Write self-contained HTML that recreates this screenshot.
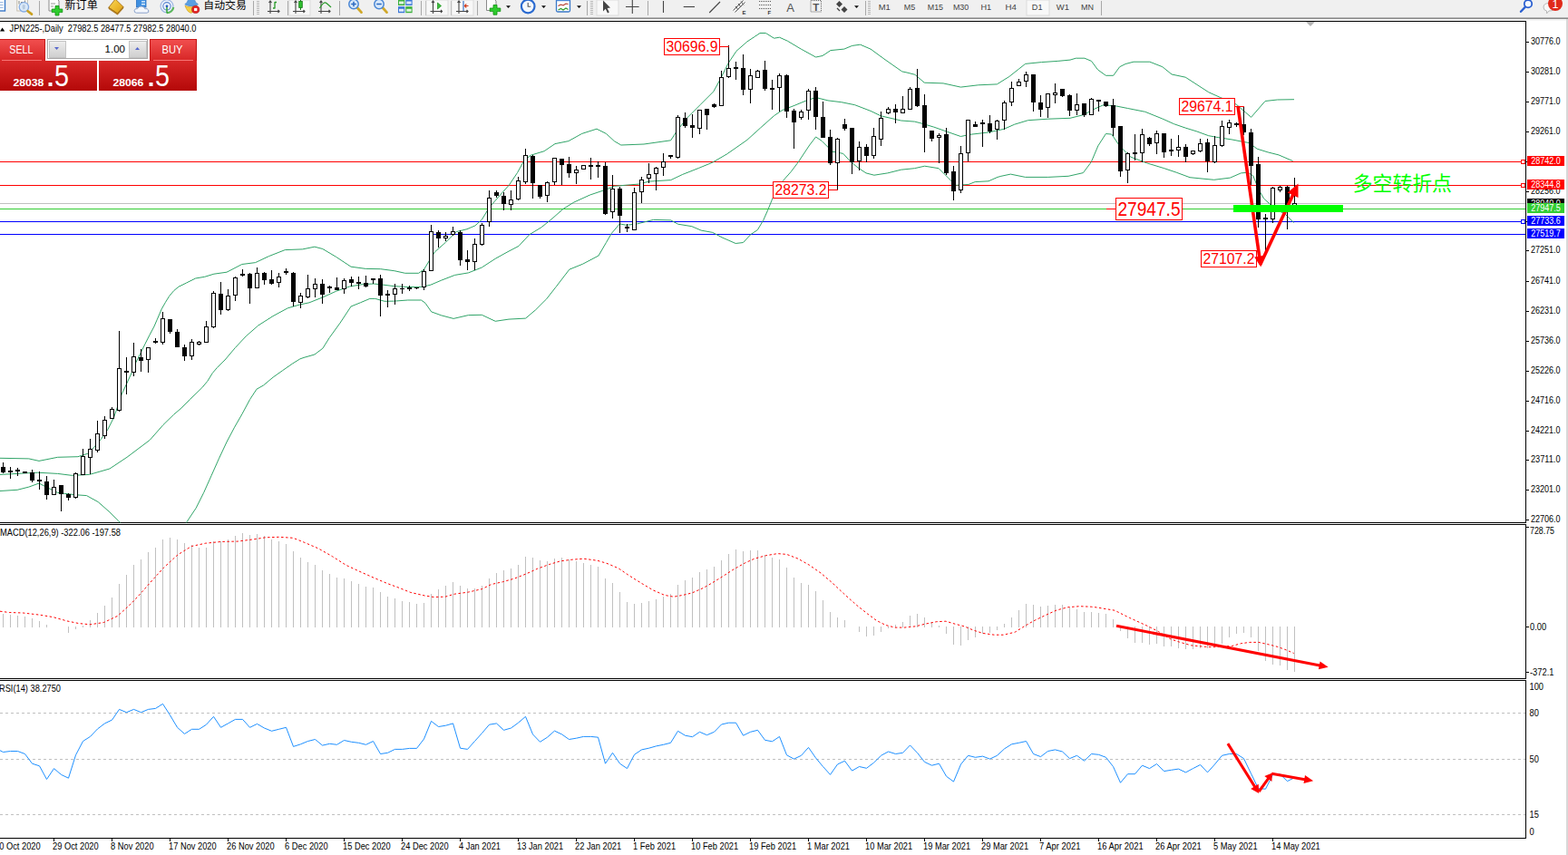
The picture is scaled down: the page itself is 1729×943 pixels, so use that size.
<!DOCTYPE html>
<html><head><meta charset="utf-8"><title>JPN225 Daily</title>
<style>
html,body{margin:0;padding:0;background:#fff;overflow:hidden}
body{width:1729px;height:943px;position:relative;font-family:"Liberation Sans",sans-serif}
svg{position:absolute;left:0;top:0;display:block}
svg text{font-family:"Liberation Sans",sans-serif}
</style></head><body>
<svg width="1729" height="943" viewBox="0 0 1729 943">
<defs>
<linearGradient id="gr1" x1="0" y1="0" x2="0" y2="1"><stop offset="0" stop-color="#f25050"/><stop offset="1" stop-color="#d62424"/></linearGradient>
<linearGradient id="gr2" x1="0" y1="0" x2="0" y2="1"><stop offset="0" stop-color="#d82828"/><stop offset="1" stop-color="#b40808"/></linearGradient>
<linearGradient id="gb" x1="0" y1="0" x2="0" y2="1"><stop offset="0" stop-color="#eeeeee"/><stop offset="1" stop-color="#cfcfcf"/></linearGradient>
<linearGradient id="gy" x1="0" y1="0" x2="1" y2="1"><stop offset="0" stop-color="#f6d860"/><stop offset="0.5" stop-color="#eebc30"/><stop offset="1" stop-color="#d89a18"/></linearGradient>
</defs>
<rect x="0" y="0" width="1729" height="943" fill="#fff"/>
<rect x="0" y="0" width="1729" height="19" fill="#f0f0f0"/>
<rect x="0" y="19" width="1729" height="1" fill="#b4b4b4"/>
<rect x="0" y="20" width="1729" height="1" fill="#8a8a8a"/>
<rect x="0" y="21" width="1729" height="2" fill="#f4f4f4"/>
<rect x="1727" y="21" width="2" height="922" fill="#d8d8d8"/>
<rect x="-4" y="-3" width="9.5" height="15" fill="#fff" stroke="#3a78c8" stroke-width="1.4"/>
<rect x="0" y="2" width="3.5" height="1" fill="#9ab8e0"/>
<rect x="0" y="5" width="3.5" height="1" fill="#9ab8e0"/>
<rect x="0" y="8" width="3.5" height="1" fill="#9ab8e0"/>
<rect x="18.8" y="-3" width="11.5" height="15" fill="#fbfaf6" stroke="#c0b8a8" stroke-width="0.9"/>
<path d="M21 1 V4.5 M27.5 0.5 V4 M23 2.5 H26" stroke="#666" stroke-width="0.8" fill="none"/>
<circle cx="26.4" cy="7.8" r="5.2" fill="#d8e8f8" stroke="#86ace4" stroke-width="1.3" fill-opacity="0.92"/>
<path d="M25 5 Q23.8 8 25.4 10.5 L27.6 10 L27.8 5.6 Z" fill="#a8bcd4" opacity="0.7"/>
<path d="M30.6 12.2 L35 15.6" stroke="#c9a020" stroke-width="2.7" stroke-linecap="round"/>
<rect x="43" y="1" width="1" height="16" fill="#a8a8a8" shape-rendering="crispEdges"/>
<path d="M54 -3 H61 L65 1 V12 H54 Z" fill="#fdfdfd" stroke="#8a8a8a" stroke-width="1"/>
<path d="M56 4 H61 M56 7 H59" stroke="#9a9a9a" stroke-width="1"/>
<path d="M61 6.5 H65 V10 H68.8 V13.6 H65 V17 H61 V13.6 H57.2 V10 H61 Z" fill="#2ecc2e" stroke="#0e8f0e" stroke-width="0.8"/>
<text x="71.5" y="9.9" font-size="12.1" fill="#000" style="font-family:'Liberation Sans','Noto Sans CJK SC',sans-serif">新订单</text>
<path d="M119.8 8.3 L127.2 -1 L136 7.6 L129.4 14.8 Z" fill="url(#gy)" stroke="#a8741a" stroke-width="0.9"/>
<path d="M119.8 8.3 L129.4 14.8 L136 7.6 L136 9 L129.6 16.2 L120 9.8 Z" fill="#c48a1c" stroke="#8a5a10" stroke-width="0.5"/>
<rect x="150.5" y="-3" width="10.5" height="11" fill="#3f8fe0" stroke="#2a6fc0" stroke-width="0.8"/>
<rect x="156" y="1.2" width="4" height="1.3" fill="#e8f4ff"/><rect x="156" y="4" width="4" height="1.3" fill="#e8f4ff"/>
<path d="M150.5 14.2 Q147.6 14 148.2 11.4 Q149 9 151.6 9.6 Q152.6 6.6 156 7 Q159.2 7.2 159.8 9.8 Q162.4 8.8 163.6 11 Q164.8 14 162 14.2 Z" fill="#f4f7fc" stroke="#7f98c4" stroke-width="0.9"/>
<circle cx="184" cy="6.8" r="7" fill="#eef3fa" stroke="#9ab4e2" stroke-width="1.1"/>
<circle cx="184" cy="6.8" r="4.2" fill="none" stroke="#5a86d0" stroke-width="1.1"/>
<path d="M184 14.2 A7.4 7.4 0 0 0 191.3 8" fill="none" stroke="#5cb85c" stroke-width="2.2"/>
<path d="M184 6.8 V14.6" stroke="#2aa02a" stroke-width="1.4"/>
<circle cx="184" cy="6.8" r="1.4" fill="#2a5cc0"/>
<path d="M204 6.2 Q210 9.5 217 6.2 Q214.5 13.5 210.5 14.3 Q206.5 13.5 204 6.2 Z" fill="#f3cf45" stroke="#cfa020" stroke-width="0.7"/>
<path d="M203.8 4.8 Q207 3.5 208.5 -3 H213.5 Q215 3.5 218.4 4.8 Q211 8.6 203.8 4.8 Z" fill="#5a9fe2" stroke="#3a7cc8" stroke-width="0.7"/>
<circle cx="215.7" cy="10.5" r="4.1" fill="#e22222" stroke="#b01212" stroke-width="0.6"/>
<rect x="214.1" y="8.9" width="3.2" height="3.2" fill="#fff"/>
<text x="224.3" y="9.8" font-size="11.9" fill="#000" style="font-family:'Liberation Sans','Noto Sans CJK SC',sans-serif">自动交易</text>
<rect x="279" y="1" width="1" height="16" fill="#a8a8a8" shape-rendering="crispEdges"/>
<rect x="283" y="1" width="3" height="1" fill="#b8b8b8" shape-rendering="crispEdges"/>
<rect x="283" y="3" width="3" height="1" fill="#b8b8b8" shape-rendering="crispEdges"/>
<rect x="283" y="5" width="3" height="1" fill="#b8b8b8" shape-rendering="crispEdges"/>
<rect x="283" y="7" width="3" height="1" fill="#b8b8b8" shape-rendering="crispEdges"/>
<rect x="283" y="9" width="3" height="1" fill="#b8b8b8" shape-rendering="crispEdges"/>
<rect x="283" y="11" width="3" height="1" fill="#b8b8b8" shape-rendering="crispEdges"/>
<rect x="283" y="13" width="3" height="1" fill="#b8b8b8" shape-rendering="crispEdges"/>
<rect x="283" y="15" width="3" height="1" fill="#b8b8b8" shape-rendering="crispEdges"/>
<path d="M298 1 V15 M295 12.5 H308 M296.5 3 L298 1 L299.5 3 M306.5 11 L308 12.5 L306.5 14" fill="none" stroke="#444" stroke-width="1.1"/>
<path d="M303 2 V9.5 M303 2.5 H305 M301 9 H303" stroke="#2a9a2a" stroke-width="1.3" fill="none"/>
<rect x="317" y="1" width="1" height="16" fill="#a8a8a8" shape-rendering="crispEdges"/>
<rect x="319" y="0" width="23" height="17" fill="#f8f8f8" stroke="#dcdcdc" stroke-width="1"/>
<path d="M326 1 V15 M323 12.5 H336 M324.5 3 L326 1 L327.5 3 M334.5 11 L336 12.5 L334.5 14" fill="none" stroke="#444" stroke-width="1.1"/>
<path d="M331.5 -1 V11" stroke="#1a7a1a" stroke-width="1"/><rect x="329.7" y="1.5" width="3.6" height="7" fill="#2fbf2f" stroke="#1a7a1a" stroke-width="0.8"/>
<path d="M354 1 V15 M351 12.5 H364 M352.5 3 L354 1 L355.5 3 M362.5 11 L364 12.5 L362.5 14" fill="none" stroke="#444" stroke-width="1.1"/>
<path d="M352.5 9 Q357 1 360 3.5 T365 8" stroke="#2a9a2a" stroke-width="1.2" fill="none"/>
<rect x="374" y="1" width="1" height="16" fill="#a8a8a8" shape-rendering="crispEdges"/>
<path d="M393.5 8 L398.5 13.6" stroke="#d0a82a" stroke-width="2.8" stroke-linecap="round"/>
<circle cx="390" cy="4.5" r="5.2" fill="#d9e9fa" stroke="#4a86d4" stroke-width="1.5"/>
<path d="M387.2 4.5 H392.8" stroke="#2a68c0" stroke-width="1.5"/>
<path d="M390 1.7 V7.3" stroke="#2a68c0" stroke-width="1.5"/>
<path d="M421.5 8 L426.5 13.6" stroke="#d0a82a" stroke-width="2.8" stroke-linecap="round"/>
<circle cx="418" cy="4.5" r="5.2" fill="#d9e9fa" stroke="#4a86d4" stroke-width="1.5"/>
<path d="M415.2 4.5 H420.8" stroke="#2a68c0" stroke-width="1.5"/>
<rect x="439" y="-1" width="7.3" height="7" fill="#3bb03b"/><rect x="447.3" y="-1" width="7.3" height="7" fill="#3a78d8"/>
<rect x="439" y="7.2" width="7.3" height="7" fill="#3a78d8"/><rect x="447.3" y="7.2" width="7.3" height="7" fill="#3bb03b"/>
<rect x="440" y="1.5" width="5.3" height="3" fill="#fff" opacity="0.85"/>
<rect x="440" y="9.8" width="5.3" height="3" fill="#fff" opacity="0.85"/>
<rect x="448.3" y="1.5" width="5.3" height="3" fill="#fff" opacity="0.85"/>
<rect x="448.3" y="9.8" width="5.3" height="3" fill="#fff" opacity="0.85"/>
<rect x="464" y="1" width="1" height="16" fill="#a8a8a8" shape-rendering="crispEdges"/>
<rect x="469" y="1" width="1" height="16" fill="#a8a8a8" shape-rendering="crispEdges"/>
<rect x="470" y="0" width="24" height="17" fill="#f8f8f8" stroke="#dcdcdc" stroke-width="1"/>
<path d="M477.5 1 V15 M474.5 12.5 H487.5 M476.0 3 L477.5 1 L479.0 3 M486.0 11 L487.5 12.5 L486.0 14" fill="none" stroke="#444" stroke-width="1.1"/>
<path d="M482.5 3 L486.5 6.5 L482.5 10 Z" fill="#3ac03a" stroke="#1a8a1a" stroke-width="0.7"/>
<rect x="497" y="1" width="1" height="16" fill="#a8a8a8" shape-rendering="crispEdges"/>
<rect x="498" y="0" width="24" height="17" fill="#f8f8f8" stroke="#dcdcdc" stroke-width="1"/>
<path d="M506 1 V15 M503 12.5 H516 M504.5 3 L506 1 L507.5 3 M514.5 11 L516 12.5 L514.5 14" fill="none" stroke="#444" stroke-width="1.1"/>
<path d="M511 1 V12" stroke="#2a68c0" stroke-width="1.1"/><path d="M516.5 6.5 H512.5 M514.3 4.5 L512.3 6.5 L514.3 8.5" stroke="#d03a1a" stroke-width="1.1" fill="none"/>
<rect x="526" y="1" width="1" height="16" fill="#a8a8a8" shape-rendering="crispEdges"/>
<path d="M536.5 -3 H543 L547 1 V11.5 H536.5 Z" fill="#fdfdfd" stroke="#8a8a8a" stroke-width="1"/>
<path d="M544 5.5 H548 V9 H551.8 V12.6 H548 V16.2 H544 V12.6 H540.2 V9 H544 Z" fill="#2ecc2e" stroke="#0e8f0e" stroke-width="0.8"/>
<path d="M558 6.2 L563 6.2 L560.5 9 Z" fill="#111"/>
<circle cx="582.2" cy="7" r="7.3" fill="#f4f8fd" stroke="#2a6ad0" stroke-width="2.2"/>
<path d="M582.2 3 V7.3 H585.2" stroke="#555" stroke-width="1.1" fill="none"/>
<path d="M597 6.2 L602 6.2 L599.5 9 Z" fill="#111"/>
<rect x="613.5" y="-2" width="15" height="15" rx="1.5" fill="#fdfdfd" stroke="#3a78c8" stroke-width="1.3"/>
<rect x="613.5" y="-2" width="15" height="3.2" fill="#4a88d8"/>
<path d="M615.5 6.5 L618.5 5 L621 6 L624 4 L626.5 4.5" stroke="#b03020" stroke-width="1.1" fill="none"/>
<path d="M615.5 11 L618.5 9.5 L621 11 L624 9 L626.5 10.5" stroke="#2a9a2a" stroke-width="1.1" fill="none"/>
<path d="M636 6.2 L641 6.2 L638.5 9 Z" fill="#111"/>
<rect x="647" y="1" width="1" height="16" fill="#a8a8a8" shape-rendering="crispEdges"/>
<rect x="651" y="1" width="3" height="1" fill="#b8b8b8" shape-rendering="crispEdges"/>
<rect x="651" y="3" width="3" height="1" fill="#b8b8b8" shape-rendering="crispEdges"/>
<rect x="651" y="5" width="3" height="1" fill="#b8b8b8" shape-rendering="crispEdges"/>
<rect x="651" y="7" width="3" height="1" fill="#b8b8b8" shape-rendering="crispEdges"/>
<rect x="651" y="9" width="3" height="1" fill="#b8b8b8" shape-rendering="crispEdges"/>
<rect x="651" y="11" width="3" height="1" fill="#b8b8b8" shape-rendering="crispEdges"/>
<rect x="651" y="13" width="3" height="1" fill="#b8b8b8" shape-rendering="crispEdges"/>
<rect x="651" y="15" width="3" height="1" fill="#b8b8b8" shape-rendering="crispEdges"/>
<rect x="658" y="0" width="24" height="17" fill="#f8f8f8" stroke="#dcdcdc" stroke-width="1"/>
<path d="M665 0.5 L665 12.5 L667.8 9.8 L670 14.5 L671.8 13.6 L669.6 9 L673 8.6 Z" fill="#444"/>
<path d="M697.3 0 V15 M690 7.5 H704.6" stroke="#444" stroke-width="1.1"/>
<rect x="714" y="1" width="1" height="16" fill="#a8a8a8" shape-rendering="crispEdges"/>
<path d="M731.5 1 V14" stroke="#444" stroke-width="1.1"/>
<path d="M753.7 7.5 H766" stroke="#444" stroke-width="1.1"/>
<path d="M782.2 14 L794 2" stroke="#444" stroke-width="1.1"/>
<path d="M808.5 11.5 L819.5 0.5 M810.5 13.5 L821.5 2.5 M811 7 L814 11 M814 4 L817 8 M817 1.5 L820 5.5" stroke="#555" stroke-width="1" fill="none"/>
<text x="818.5" y="15.5" font-size="6" font-weight="bold" fill="#333">E</text>
<path d="M837 1.5 H850" stroke="#555" stroke-width="1" stroke-dasharray="1,1"/>
<path d="M837 5.5 H850" stroke="#555" stroke-width="1" stroke-dasharray="1,1"/>
<path d="M837 9.5 H850" stroke="#555" stroke-width="1" stroke-dasharray="1,1"/>
<text x="846.5" y="15.5" font-size="6" font-weight="bold" fill="#333">F</text>
<text x="871.7" y="12.5" font-size="13" text-anchor="middle" fill="#555">A</text>
<rect x="894" y="0.5" width="11.5" height="12.5" fill="none" stroke="#666" stroke-width="1" stroke-dasharray="1,1"/>
<text x="899.8" y="11.8" font-size="11.5" font-weight="bold" text-anchor="middle" fill="#555">T</text>
<path d="M922 4.5 L925.5 1 L929 4.5 L925.5 8 Z M927.5 10.5 L931 7 L934.5 10.5 L931 14 Z" fill="#444"/>
<path d="M923 9 L926 12" stroke="#444" stroke-width="1.2"/>
<path d="M942 6.2 L947 6.2 L944.5 9 Z" fill="#111"/>
<rect x="954" y="1" width="1" height="16" fill="#a8a8a8" shape-rendering="crispEdges"/>
<rect x="957" y="1" width="3" height="1" fill="#b8b8b8" shape-rendering="crispEdges"/>
<rect x="957" y="3" width="3" height="1" fill="#b8b8b8" shape-rendering="crispEdges"/>
<rect x="957" y="5" width="3" height="1" fill="#b8b8b8" shape-rendering="crispEdges"/>
<rect x="957" y="7" width="3" height="1" fill="#b8b8b8" shape-rendering="crispEdges"/>
<rect x="957" y="9" width="3" height="1" fill="#b8b8b8" shape-rendering="crispEdges"/>
<rect x="957" y="11" width="3" height="1" fill="#b8b8b8" shape-rendering="crispEdges"/>
<rect x="957" y="13" width="3" height="1" fill="#b8b8b8" shape-rendering="crispEdges"/>
<rect x="957" y="15" width="3" height="1" fill="#b8b8b8" shape-rendering="crispEdges"/>
<rect x="1132" y="0" width="25" height="17" fill="#f8f8f8" stroke="#dcdcdc" stroke-width="1"/>
<text x="975.2" y="11.2" font-size="9.6" text-anchor="middle" fill="#444" textLength="13.1" lengthAdjust="spacingAndGlyphs">M1</text>
<text x="1003" y="11.2" font-size="9.6" text-anchor="middle" fill="#444" textLength="12.4" lengthAdjust="spacingAndGlyphs">M5</text>
<text x="1031.4" y="11.2" font-size="9.6" text-anchor="middle" fill="#444" textLength="17.3" lengthAdjust="spacingAndGlyphs">M15</text>
<text x="1059.6" y="11.2" font-size="9.6" text-anchor="middle" fill="#444" textLength="17.4" lengthAdjust="spacingAndGlyphs">M30</text>
<text x="1087.3" y="11.2" font-size="9.6" text-anchor="middle" fill="#444" textLength="11.7" lengthAdjust="spacingAndGlyphs">H1</text>
<text x="1114.6" y="11.2" font-size="9.6" text-anchor="middle" fill="#444" textLength="12.4" lengthAdjust="spacingAndGlyphs">H4</text>
<text x="1143.7" y="11.2" font-size="9.6" text-anchor="middle" fill="#444" textLength="11.7" lengthAdjust="spacingAndGlyphs">D1</text>
<text x="1171.9" y="11.2" font-size="9.6" text-anchor="middle" fill="#444" textLength="14.2" lengthAdjust="spacingAndGlyphs">W1</text>
<text x="1198.9" y="11.2" font-size="9.6" text-anchor="middle" fill="#444" textLength="14" lengthAdjust="spacingAndGlyphs">MN</text>
<rect x="1214" y="1" width="1" height="16" fill="#a8a8a8" shape-rendering="crispEdges"/>
<circle cx="1685" cy="4.2" r="4.2" fill="#f4f8ff" stroke="#2a5fd0" stroke-width="1.8"/>
<path d="M1682 7.5 L1677 12.8" stroke="#2a5fd0" stroke-width="2.4" stroke-linecap="round"/>
<path d="M1702 8 Q1702 3.5 1708 3.5 Q1714 3.5 1714 8 Q1714 12 1708 12 L1705.5 15 L1705.5 12 Q1702 11.5 1702 8 Z" fill="#f8f8f8" stroke="#b8b8b8" stroke-width="1"/>
<circle cx="1715" cy="4" r="8" fill="#e02a1a"/>
<text x="1715" y="8.6" font-size="12.5" text-anchor="middle" fill="#fff">1</text>
<g shape-rendering="crispEdges" fill="#000">
<rect x="0" y="23" width="1683" height="1"/>
<rect x="1682" y="23" width="1" height="554"/>
<rect x="0" y="576" width="1683" height="1"/>
<rect x="0" y="578" width="1683" height="1"/>
<rect x="1682" y="578" width="1" height="171"/>
<rect x="0" y="748" width="1683" height="1"/>
<rect x="0" y="750" width="1683" height="1"/>
<rect x="1682" y="750" width="1" height="175"/>
<rect x="0" y="924" width="1683" height="1"/>
</g>
<path d="M1440 24 L1450 24 L1445 29 Z" fill="#b4b4b4"/>
<g shape-rendering="crispEdges">
<rect x="0" y="224" width="1682" height="1" fill="#c0c0c0"/>
<rect x="0" y="178" width="1682" height="1" fill="#ff0000"/>
<rect x="0" y="204" width="1682" height="1" fill="#ff0000"/>
<rect x="0" y="230" width="1682" height="1" fill="#32cd32"/>
<rect x="0" y="244" width="1682" height="1" fill="#0000ff"/>
<rect x="0" y="258" width="1682" height="1" fill="#0000ff"/>
</g>
<g fill="none" stroke="#30a468" stroke-width="1" stroke-linejoin="round">
<polyline points="0.0,505.3 31.8,505.9 43.0,508.4 63.6,504.3 85.9,503.7 96.7,500.3 103.4,493.6 111.1,484.7 118.9,473.6 125.6,460.2 130.0,447.5 134.1,435.0 141.1,420.1 145.2,411.0 150.0,399.5 154.8,389.9 159.8,379.7 164.9,369.6 170.0,360.0 173.1,352.8 178.2,340.9 182.5,333.3 186.7,326.5 191.8,320.5 196.9,316.3 205.4,312.1 215.6,307.0 225.7,305.3 235.9,302.2 250.0,300.2 266.8,291.5 281.6,289.6 296.5,282.6 314.3,275.6 333.6,274.9 346.9,272.2 355.8,274.5 370.7,283.4 387.0,294.2 403.3,296.4 419.7,296.7 434.8,298.7 446.7,301.3 461.6,301.3 467.5,297.2 473.4,287.5 479.4,277.9 491.2,267.5 503.1,255.6 515.0,252.7 523.9,248.9 531.3,242.3 539.3,229.1 549.7,217.2 561.6,203.8 570.5,190.5 577.9,177.1 585.3,171.2 600.1,166.7 612.0,158.6 626.9,155.6 641.7,147.4 658.0,142.2 668.4,147.4 677.3,155.6 684.8,160.0 710.0,159.0 739.7,154.8 746.7,143.9 758.6,129.1 772.0,115.7 786.8,100.9 794.2,87.5 803.1,69.7 812.0,56.3 823.9,45.9 832.8,40.0 838.0,36.5 844.4,36.5 853.6,42.2 859.5,41.2 868.4,45.2 883.3,54.1 899.6,63.0 907.0,61.5 915.9,55.6 930.8,54.1 939.7,50.4 948.6,49.2 960.0,54.1 976.0,65.8 994.7,78.9 1000.0,80.0 1008.9,82.3 1019.3,91.2 1040.1,91.9 1059.4,96.1 1078.7,93.8 1099.4,92.9 1112.8,84.5 1123.2,76.3 1130.6,70.4 1148.4,68.6 1166.2,67.4 1180.0,66.1 1186.4,64.2 1195.9,64.2 1203.5,67.4 1210.5,76.9 1219.4,83.3 1227.7,83.3 1234.7,73.7 1241.1,70.5 1250.0,68.2 1267.8,68.2 1281.8,73.7 1292.0,82.0 1307.2,85.2 1319.9,93.4 1332.7,101.7 1345.4,107.4 1363.2,115.1 1379.6,129.3 1395.1,111.5 1408.5,110.0 1427.0,109.7"/>
<polyline points="0.0,523.4 19.1,522.4 41.4,521.2 63.6,522.4 79.5,524.4 98.6,523.4 120.9,517.0 140.0,504.3 165.4,485.2 180.0,468.5 191.5,457.3 199.9,450.2 209.3,440.7 222.8,427.6 228.8,420.4 234.3,411.5 239.4,405.5 244.9,400.0 248.0,397.0 259.4,383.5 271.2,370.9 284.6,359.1 300.9,348.7 317.3,339.8 330.6,336.0 341.0,333.8 355.8,327.9 370.7,321.2 385.5,316.0 400.4,313.5 412.2,313.0 420.0,313.8 434.8,315.7 449.7,316.5 464.5,316.5 474.9,314.2 486.8,309.1 501.6,303.4 516.5,300.9 531.3,295.0 546.2,285.3 561.0,277.1 572.0,271.4 583.8,258.7 597.2,250.6 609.1,240.9 620.9,230.5 632.8,223.1 650.6,215.0 668.4,209.0 677.3,205.3 695.1,203.8 704.0,203.1 715.9,200.1 739.7,198.6 752.7,192.4 770.5,185.4 785.8,179.1 801.1,170.2 809.1,164.7 823.9,154.3 838.7,140.9 853.6,127.6 862.5,121.6 875.9,116.4 889.2,110.9 899.6,107.5 913.0,110.9 927.8,112.7 942.6,115.7 960.0,122.4 971.3,127.8 993.6,133.0 1008.4,134.1 1014.8,135.7 1029.7,140.1 1044.5,145.3 1059.4,150.5 1069.8,148.3 1089.1,146.1 1106.9,142.4 1118.7,137.2 1133.6,132.7 1155.8,131.2 1180.0,130.3 1195.3,126.5 1205.4,120.8 1216.9,115.7 1230.9,117.0 1243.6,119.5 1262.7,123.3 1281.8,131.0 1294.5,136.7 1307.2,141.1 1319.9,145.0 1332.7,149.7 1345.4,152.0 1358.1,153.9 1370.8,156.4 1377.3,157.5 1386.2,164.2 1398.1,167.9 1410.0,170.9 1425.6,177.6"/>
<polyline points="0.0,541.5 19.1,540.3 31.8,537.1 43.0,533.0 50.9,537.1 63.6,543.4 82.7,545.7 95.5,546.6 108.2,553.6 120.9,564.8 130.5,574.3 132.5,576.5"/>
<polyline points="205.4,576.5 206.0,575.6 216.2,560.3 224.7,543.3 233.2,524.3 241.7,505.2 250.2,487.1 258.6,471.2 267.1,456.4 275.6,440.5 283.0,429.2 290.5,425.0 301.1,416.1 311.7,408.6 322.3,401.2 330.8,395.9 335.0,394.4 346.9,391.0 355.8,384.3 363.3,372.4 375.1,356.1 387.0,338.0 397.4,333.8 407.8,329.4 413.7,329.4 424.1,332.3 434.8,332.1 449.7,331.0 464.5,331.0 469.0,334.3 475.7,343.9 486.8,347.9 500.1,351.4 516.5,347.6 531.3,347.3 546.2,354.3 561.0,352.1 579.6,351.1 590.7,341.7 602.6,329.8 613.0,316.5 627.8,297.2 642.6,291.2 660.0,282.0 668.4,267.6 674.4,257.3 683.3,246.9 690.7,248.3 702.6,246.9 720.4,242.4 739.7,242.9 747.6,247.2 762.9,249.7 773.1,254.1 785.8,256.4 796.0,261.8 811.2,268.5 819.5,267.5 827.8,258.6 835.4,253.5 841.8,242.7 846.9,231.2 852.0,218.5 863.4,199.4 872.3,189.3 880.0,179.1 892.7,160.0 899.6,151.0 906.0,155.3 917.9,167.2 929.8,169.4 937.2,177.6 946.1,185.0 955.0,190.9 963.9,193.2 978.7,190.9 993.6,187.2 1008.4,185.7 1019.6,183.2 1035.1,185.7 1050.0,200.6 1054.4,204.3 1067.8,203.5 1075.2,200.6 1090.0,199.8 1100.0,195.4 1103.9,194.3 1114.3,192.1 1130.6,195.4 1155.8,195.4 1178.1,194.3 1194.4,190.6 1203.3,178.7 1210.8,160.9 1219.4,147.5 1225.8,148.1 1234.5,160.9 1246.7,173.1 1264.5,179.8 1283.8,185.7 1297.2,190.2 1312.0,195.7 1326.9,197.2 1338.7,198.3 1356.5,196.1 1368.4,190.9 1375.8,190.2 1381.8,193.9 1387.7,208.7 1393.7,219.1 1401.1,225.8 1409.0,232.0 1417.0,236.0 1422.1,241.1 1426.6,245.5"/>
</g>
<g shape-rendering="crispEdges">
<rect x="3" y="510" width="1" height="12" fill="#000"/>
<rect x="1" y="515" width="5" height="6" fill="#000"/>
<rect x="11" y="515" width="1" height="13" fill="#000"/>
<rect x="9" y="519" width="5" height="2" fill="#000"/>
<rect x="19" y="516" width="1" height="9" fill="#000"/>
<rect x="17" y="518" width="5" height="2" fill="#000"/>
<rect x="27" y="520" width="1" height="2" fill="#000"/>
<rect x="25" y="520" width="5" height="2" fill="#000"/>
<rect x="35" y="518" width="1" height="14" fill="#000"/>
<rect x="33" y="521" width="5" height="9" fill="#000"/>
<rect x="43" y="520" width="1" height="20" fill="#000"/>
<rect x="41" y="529" width="5" height="2" fill="#000"/>
<rect x="51" y="525" width="1" height="26" fill="#000"/>
<rect x="49" y="531" width="5" height="15" fill="#000"/>
<rect x="59" y="529" width="1" height="17" fill="#000"/>
<rect x="57" y="537" width="5" height="9" fill="#000"/>
<rect x="58" y="538" width="3" height="7" fill="#fff"/>
<rect x="67" y="535" width="1" height="29" fill="#000"/>
<rect x="65" y="535" width="5" height="10" fill="#000"/>
<rect x="75" y="544" width="1" height="8" fill="#000"/>
<rect x="73" y="545" width="5" height="4" fill="#000"/>
<rect x="83" y="521" width="1" height="29" fill="#000"/>
<rect x="81" y="522" width="5" height="27" fill="#000"/>
<rect x="82" y="523" width="3" height="25" fill="#fff"/>
<rect x="91" y="495" width="1" height="29" fill="#000"/>
<rect x="89" y="503" width="5" height="21" fill="#000"/>
<rect x="90" y="504" width="3" height="19" fill="#fff"/>
<rect x="99" y="484" width="1" height="39" fill="#000"/>
<rect x="97" y="495" width="5" height="10" fill="#000"/>
<rect x="98" y="496" width="3" height="8" fill="#fff"/>
<rect x="107" y="464" width="1" height="35" fill="#000"/>
<rect x="105" y="478" width="5" height="19" fill="#000"/>
<rect x="106" y="479" width="3" height="17" fill="#fff"/>
<rect x="115" y="459" width="1" height="25" fill="#000"/>
<rect x="113" y="463" width="5" height="18" fill="#000"/>
<rect x="114" y="464" width="3" height="16" fill="#fff"/>
<rect x="123" y="449" width="1" height="13" fill="#000"/>
<rect x="121" y="451" width="5" height="11" fill="#000"/>
<rect x="122" y="452" width="3" height="9" fill="#fff"/>
<rect x="131" y="365" width="1" height="89" fill="#000"/>
<rect x="129" y="406" width="5" height="47" fill="#000"/>
<rect x="130" y="407" width="3" height="45" fill="#fff"/>
<rect x="139" y="394" width="1" height="41" fill="#000"/>
<rect x="137" y="409" width="5" height="2" fill="#000"/>
<rect x="147" y="378" width="1" height="37" fill="#000"/>
<rect x="145" y="393" width="5" height="18" fill="#000"/>
<rect x="146" y="394" width="3" height="16" fill="#fff"/>
<rect x="155" y="385" width="1" height="25" fill="#000"/>
<rect x="153" y="394" width="5" height="4" fill="#000"/>
<rect x="163" y="383" width="1" height="28" fill="#000"/>
<rect x="161" y="383" width="5" height="14" fill="#000"/>
<rect x="162" y="384" width="3" height="12" fill="#fff"/>
<rect x="171" y="373" width="1" height="6" fill="#000"/>
<rect x="169" y="376" width="5" height="2" fill="#000"/>
<rect x="179" y="344" width="1" height="36" fill="#000"/>
<rect x="177" y="351" width="5" height="27" fill="#000"/>
<rect x="178" y="352" width="3" height="25" fill="#fff"/>
<rect x="187" y="352" width="1" height="16" fill="#000"/>
<rect x="185" y="352" width="5" height="14" fill="#000"/>
<rect x="195" y="363" width="1" height="20" fill="#000"/>
<rect x="193" y="366" width="5" height="17" fill="#000"/>
<rect x="203" y="380" width="1" height="18" fill="#000"/>
<rect x="201" y="383" width="5" height="10" fill="#000"/>
<rect x="211" y="374" width="1" height="23" fill="#000"/>
<rect x="209" y="377" width="5" height="16" fill="#000"/>
<rect x="210" y="378" width="3" height="14" fill="#fff"/>
<rect x="219" y="376" width="1" height="5" fill="#000"/>
<rect x="217" y="377" width="5" height="3" fill="#000"/>
<rect x="218" y="378" width="3" height="1" fill="#fff"/>
<rect x="227" y="354" width="1" height="24" fill="#000"/>
<rect x="225" y="360" width="5" height="18" fill="#000"/>
<rect x="226" y="361" width="3" height="16" fill="#fff"/>
<rect x="235" y="321" width="1" height="41" fill="#000"/>
<rect x="233" y="323" width="5" height="38" fill="#000"/>
<rect x="234" y="324" width="3" height="36" fill="#fff"/>
<rect x="243" y="311" width="1" height="36" fill="#000"/>
<rect x="241" y="324" width="5" height="18" fill="#000"/>
<rect x="251" y="319" width="1" height="24" fill="#000"/>
<rect x="249" y="326" width="5" height="16" fill="#000"/>
<rect x="250" y="327" width="3" height="14" fill="#fff"/>
<rect x="259" y="305" width="1" height="27" fill="#000"/>
<rect x="257" y="306" width="5" height="20" fill="#000"/>
<rect x="258" y="307" width="3" height="18" fill="#fff"/>
<rect x="267" y="297" width="1" height="8" fill="#000"/>
<rect x="265" y="302" width="5" height="2" fill="#000"/>
<rect x="275" y="301" width="1" height="34" fill="#000"/>
<rect x="273" y="302" width="5" height="16" fill="#000"/>
<rect x="283" y="295" width="1" height="23" fill="#000"/>
<rect x="281" y="301" width="5" height="17" fill="#000"/>
<rect x="282" y="302" width="3" height="15" fill="#fff"/>
<rect x="291" y="300" width="1" height="14" fill="#000"/>
<rect x="289" y="301" width="5" height="8" fill="#000"/>
<rect x="299" y="298" width="1" height="16" fill="#000"/>
<rect x="297" y="308" width="5" height="5" fill="#000"/>
<rect x="307" y="301" width="1" height="16" fill="#000"/>
<rect x="305" y="305" width="5" height="7" fill="#000"/>
<rect x="306" y="306" width="3" height="5" fill="#fff"/>
<rect x="315" y="296" width="1" height="7" fill="#000"/>
<rect x="313" y="299" width="5" height="2" fill="#000"/>
<rect x="323" y="300" width="1" height="38" fill="#000"/>
<rect x="321" y="301" width="5" height="32" fill="#000"/>
<rect x="331" y="323" width="1" height="17" fill="#000"/>
<rect x="329" y="326" width="5" height="8" fill="#000"/>
<rect x="330" y="327" width="3" height="6" fill="#fff"/>
<rect x="339" y="303" width="1" height="26" fill="#000"/>
<rect x="337" y="318" width="5" height="10" fill="#000"/>
<rect x="338" y="319" width="3" height="8" fill="#fff"/>
<rect x="347" y="307" width="1" height="21" fill="#000"/>
<rect x="345" y="313" width="5" height="6" fill="#000"/>
<rect x="346" y="314" width="3" height="4" fill="#fff"/>
<rect x="355" y="308" width="1" height="27" fill="#000"/>
<rect x="353" y="313" width="5" height="12" fill="#000"/>
<rect x="363" y="315" width="1" height="8" fill="#000"/>
<rect x="361" y="316" width="5" height="2" fill="#000"/>
<rect x="371" y="306" width="1" height="14" fill="#000"/>
<rect x="369" y="317" width="5" height="3" fill="#000"/>
<rect x="379" y="307" width="1" height="17" fill="#000"/>
<rect x="377" y="309" width="5" height="10" fill="#000"/>
<rect x="378" y="310" width="3" height="8" fill="#fff"/>
<rect x="387" y="305" width="1" height="11" fill="#000"/>
<rect x="385" y="308" width="5" height="4" fill="#000"/>
<rect x="395" y="305" width="1" height="14" fill="#000"/>
<rect x="393" y="311" width="5" height="2" fill="#000"/>
<rect x="403" y="304" width="1" height="13" fill="#000"/>
<rect x="401" y="312" width="5" height="4" fill="#000"/>
<rect x="411" y="308" width="1" height="5" fill="#000"/>
<rect x="409" y="307" width="5" height="2" fill="#000"/>
<rect x="419" y="303" width="1" height="46" fill="#000"/>
<rect x="417" y="307" width="5" height="19" fill="#000"/>
<rect x="427" y="320" width="1" height="19" fill="#000"/>
<rect x="425" y="324" width="5" height="2" fill="#000"/>
<rect x="435" y="313" width="1" height="23" fill="#000"/>
<rect x="433" y="318" width="5" height="7" fill="#000"/>
<rect x="434" y="319" width="3" height="5" fill="#fff"/>
<rect x="443" y="313" width="1" height="11" fill="#000"/>
<rect x="441" y="318" width="5" height="1" fill="#000"/>
<rect x="451" y="315" width="1" height="6" fill="#000"/>
<rect x="449" y="317" width="5" height="2" fill="#000"/>
<rect x="459" y="317" width="1" height="2" fill="#000"/>
<rect x="457" y="317" width="5" height="1" fill="#000"/>
<rect x="467" y="297" width="1" height="23" fill="#000"/>
<rect x="465" y="299" width="5" height="18" fill="#000"/>
<rect x="466" y="300" width="3" height="16" fill="#fff"/>
<rect x="475" y="248" width="1" height="51" fill="#000"/>
<rect x="473" y="255" width="5" height="44" fill="#000"/>
<rect x="474" y="256" width="3" height="42" fill="#fff"/>
<rect x="483" y="254" width="1" height="19" fill="#000"/>
<rect x="481" y="256" width="5" height="7" fill="#000"/>
<rect x="491" y="256" width="1" height="10" fill="#000"/>
<rect x="489" y="260" width="5" height="3" fill="#000"/>
<rect x="490" y="261" width="3" height="1" fill="#fff"/>
<rect x="499" y="250" width="1" height="10" fill="#000"/>
<rect x="497" y="255" width="5" height="4" fill="#000"/>
<rect x="498" y="256" width="3" height="2" fill="#fff"/>
<rect x="507" y="254" width="1" height="39" fill="#000"/>
<rect x="505" y="256" width="5" height="31" fill="#000"/>
<rect x="515" y="276" width="1" height="22" fill="#000"/>
<rect x="513" y="286" width="5" height="3" fill="#000"/>
<rect x="523" y="263" width="1" height="35" fill="#000"/>
<rect x="521" y="269" width="5" height="20" fill="#000"/>
<rect x="522" y="270" width="3" height="18" fill="#fff"/>
<rect x="531" y="246" width="1" height="25" fill="#000"/>
<rect x="529" y="248" width="5" height="22" fill="#000"/>
<rect x="530" y="249" width="3" height="20" fill="#fff"/>
<rect x="539" y="210" width="1" height="40" fill="#000"/>
<rect x="537" y="218" width="5" height="27" fill="#000"/>
<rect x="538" y="219" width="3" height="25" fill="#fff"/>
<rect x="547" y="210" width="1" height="8" fill="#000"/>
<rect x="545" y="212" width="5" height="4" fill="#000"/>
<rect x="555" y="212" width="1" height="20" fill="#000"/>
<rect x="553" y="216" width="5" height="9" fill="#000"/>
<rect x="563" y="210" width="1" height="22" fill="#000"/>
<rect x="561" y="220" width="5" height="6" fill="#000"/>
<rect x="562" y="221" width="3" height="4" fill="#fff"/>
<rect x="571" y="195" width="1" height="26" fill="#000"/>
<rect x="569" y="199" width="5" height="21" fill="#000"/>
<rect x="570" y="200" width="3" height="19" fill="#fff"/>
<rect x="579" y="164" width="1" height="39" fill="#000"/>
<rect x="577" y="171" width="5" height="30" fill="#000"/>
<rect x="578" y="172" width="3" height="28" fill="#fff"/>
<rect x="587" y="171" width="1" height="48" fill="#000"/>
<rect x="585" y="172" width="5" height="30" fill="#000"/>
<rect x="595" y="204" width="1" height="15" fill="#000"/>
<rect x="593" y="204" width="5" height="13" fill="#000"/>
<rect x="603" y="200" width="1" height="23" fill="#000"/>
<rect x="601" y="201" width="5" height="15" fill="#000"/>
<rect x="602" y="202" width="3" height="13" fill="#fff"/>
<rect x="611" y="174" width="1" height="30" fill="#000"/>
<rect x="609" y="174" width="5" height="27" fill="#000"/>
<rect x="610" y="175" width="3" height="25" fill="#fff"/>
<rect x="619" y="175" width="1" height="29" fill="#000"/>
<rect x="617" y="175" width="5" height="7" fill="#000"/>
<rect x="627" y="173" width="1" height="23" fill="#000"/>
<rect x="625" y="181" width="5" height="10" fill="#000"/>
<rect x="635" y="183" width="1" height="20" fill="#000"/>
<rect x="633" y="187" width="5" height="4" fill="#000"/>
<rect x="634" y="188" width="3" height="2" fill="#fff"/>
<rect x="643" y="182" width="1" height="5" fill="#000"/>
<rect x="641" y="182" width="5" height="5" fill="#000"/>
<rect x="642" y="183" width="3" height="3" fill="#fff"/>
<rect x="651" y="174" width="1" height="24" fill="#000"/>
<rect x="649" y="182" width="5" height="2" fill="#000"/>
<rect x="659" y="178" width="1" height="18" fill="#000"/>
<rect x="657" y="182" width="5" height="2" fill="#000"/>
<rect x="667" y="179" width="1" height="58" fill="#000"/>
<rect x="665" y="183" width="5" height="53" fill="#000"/>
<rect x="675" y="193" width="1" height="48" fill="#000"/>
<rect x="673" y="208" width="5" height="26" fill="#000"/>
<rect x="674" y="209" width="3" height="24" fill="#fff"/>
<rect x="683" y="206" width="1" height="51" fill="#000"/>
<rect x="681" y="208" width="5" height="30" fill="#000"/>
<rect x="691" y="247" width="1" height="9" fill="#000"/>
<rect x="689" y="250" width="5" height="2" fill="#000"/>
<rect x="699" y="207" width="1" height="47" fill="#000"/>
<rect x="697" y="212" width="5" height="42" fill="#000"/>
<rect x="698" y="213" width="3" height="40" fill="#fff"/>
<rect x="707" y="195" width="1" height="29" fill="#000"/>
<rect x="705" y="198" width="5" height="14" fill="#000"/>
<rect x="706" y="199" width="3" height="12" fill="#fff"/>
<rect x="715" y="180" width="1" height="22" fill="#000"/>
<rect x="713" y="192" width="5" height="5" fill="#000"/>
<rect x="714" y="193" width="3" height="3" fill="#fff"/>
<rect x="723" y="184" width="1" height="26" fill="#000"/>
<rect x="721" y="185" width="5" height="7" fill="#000"/>
<rect x="722" y="186" width="3" height="5" fill="#fff"/>
<rect x="731" y="169" width="1" height="25" fill="#000"/>
<rect x="729" y="178" width="5" height="7" fill="#000"/>
<rect x="730" y="179" width="3" height="5" fill="#fff"/>
<rect x="739" y="171" width="1" height="4" fill="#000"/>
<rect x="737" y="171" width="5" height="2" fill="#000"/>
<rect x="747" y="127" width="1" height="48" fill="#000"/>
<rect x="745" y="129" width="5" height="45" fill="#000"/>
<rect x="746" y="130" width="3" height="43" fill="#fff"/>
<rect x="755" y="124" width="1" height="17" fill="#000"/>
<rect x="753" y="130" width="5" height="9" fill="#000"/>
<rect x="763" y="126" width="1" height="26" fill="#000"/>
<rect x="761" y="138" width="5" height="3" fill="#000"/>
<rect x="771" y="121" width="1" height="27" fill="#000"/>
<rect x="769" y="121" width="5" height="21" fill="#000"/>
<rect x="770" y="122" width="3" height="19" fill="#fff"/>
<rect x="779" y="120" width="1" height="23" fill="#000"/>
<rect x="777" y="120" width="5" height="7" fill="#000"/>
<rect x="787" y="114" width="1" height="5" fill="#000"/>
<rect x="785" y="115" width="5" height="3" fill="#000"/>
<rect x="795" y="78" width="1" height="39" fill="#000"/>
<rect x="793" y="85" width="5" height="32" fill="#000"/>
<rect x="794" y="86" width="3" height="30" fill="#fff"/>
<rect x="803" y="50" width="1" height="36" fill="#000"/>
<rect x="801" y="75" width="5" height="10" fill="#000"/>
<rect x="802" y="76" width="3" height="8" fill="#fff"/>
<rect x="811" y="68" width="1" height="20" fill="#000"/>
<rect x="809" y="74" width="5" height="2" fill="#000"/>
<rect x="819" y="60" width="1" height="45" fill="#000"/>
<rect x="817" y="75" width="5" height="24" fill="#000"/>
<rect x="827" y="76" width="1" height="38" fill="#000"/>
<rect x="825" y="83" width="5" height="16" fill="#000"/>
<rect x="826" y="84" width="3" height="14" fill="#fff"/>
<rect x="835" y="77" width="1" height="9" fill="#000"/>
<rect x="833" y="78" width="5" height="8" fill="#000"/>
<rect x="834" y="79" width="3" height="6" fill="#fff"/>
<rect x="843" y="67" width="1" height="33" fill="#000"/>
<rect x="841" y="77" width="5" height="21" fill="#000"/>
<rect x="851" y="88" width="1" height="33" fill="#000"/>
<rect x="849" y="97" width="5" height="2" fill="#000"/>
<rect x="859" y="81" width="1" height="42" fill="#000"/>
<rect x="857" y="83" width="5" height="14" fill="#000"/>
<rect x="858" y="84" width="3" height="12" fill="#fff"/>
<rect x="867" y="82" width="1" height="48" fill="#000"/>
<rect x="865" y="83" width="5" height="40" fill="#000"/>
<rect x="875" y="120" width="1" height="44" fill="#000"/>
<rect x="873" y="122" width="5" height="13" fill="#000"/>
<rect x="883" y="121" width="1" height="11" fill="#000"/>
<rect x="881" y="123" width="5" height="7" fill="#000"/>
<rect x="882" y="124" width="3" height="5" fill="#fff"/>
<rect x="891" y="98" width="1" height="34" fill="#000"/>
<rect x="889" y="100" width="5" height="22" fill="#000"/>
<rect x="890" y="101" width="3" height="20" fill="#fff"/>
<rect x="899" y="96" width="1" height="47" fill="#000"/>
<rect x="897" y="100" width="5" height="29" fill="#000"/>
<rect x="907" y="112" width="1" height="40" fill="#000"/>
<rect x="905" y="129" width="5" height="23" fill="#000"/>
<rect x="915" y="143" width="1" height="39" fill="#000"/>
<rect x="913" y="151" width="5" height="29" fill="#000"/>
<rect x="923" y="152" width="1" height="57" fill="#000"/>
<rect x="921" y="153" width="5" height="27" fill="#000"/>
<rect x="922" y="154" width="3" height="25" fill="#fff"/>
<rect x="931" y="131" width="1" height="13" fill="#000"/>
<rect x="929" y="137" width="5" height="5" fill="#000"/>
<rect x="939" y="141" width="1" height="51" fill="#000"/>
<rect x="937" y="141" width="5" height="38" fill="#000"/>
<rect x="947" y="156" width="1" height="32" fill="#000"/>
<rect x="945" y="162" width="5" height="16" fill="#000"/>
<rect x="946" y="163" width="3" height="14" fill="#fff"/>
<rect x="955" y="159" width="1" height="20" fill="#000"/>
<rect x="953" y="162" width="5" height="10" fill="#000"/>
<rect x="963" y="141" width="1" height="34" fill="#000"/>
<rect x="961" y="150" width="5" height="22" fill="#000"/>
<rect x="962" y="151" width="3" height="20" fill="#fff"/>
<rect x="971" y="123" width="1" height="38" fill="#000"/>
<rect x="969" y="130" width="5" height="24" fill="#000"/>
<rect x="970" y="131" width="3" height="22" fill="#fff"/>
<rect x="979" y="118" width="1" height="8" fill="#000"/>
<rect x="977" y="120" width="5" height="5" fill="#000"/>
<rect x="978" y="121" width="3" height="3" fill="#fff"/>
<rect x="987" y="115" width="1" height="21" fill="#000"/>
<rect x="985" y="120" width="5" height="4" fill="#000"/>
<rect x="995" y="106" width="1" height="19" fill="#000"/>
<rect x="993" y="120" width="5" height="5" fill="#000"/>
<rect x="994" y="121" width="3" height="3" fill="#fff"/>
<rect x="1003" y="96" width="1" height="25" fill="#000"/>
<rect x="1001" y="98" width="5" height="23" fill="#000"/>
<rect x="1002" y="99" width="3" height="21" fill="#fff"/>
<rect x="1011" y="76" width="1" height="42" fill="#000"/>
<rect x="1009" y="97" width="5" height="20" fill="#000"/>
<rect x="1019" y="104" width="1" height="64" fill="#000"/>
<rect x="1017" y="116" width="5" height="25" fill="#000"/>
<rect x="1027" y="144" width="1" height="12" fill="#000"/>
<rect x="1025" y="144" width="5" height="9" fill="#000"/>
<rect x="1035" y="147" width="1" height="33" fill="#000"/>
<rect x="1033" y="149" width="5" height="3" fill="#000"/>
<rect x="1034" y="150" width="3" height="1" fill="#fff"/>
<rect x="1043" y="141" width="1" height="52" fill="#000"/>
<rect x="1041" y="148" width="5" height="43" fill="#000"/>
<rect x="1051" y="183" width="1" height="38" fill="#000"/>
<rect x="1049" y="189" width="5" height="22" fill="#000"/>
<rect x="1059" y="161" width="1" height="52" fill="#000"/>
<rect x="1057" y="169" width="5" height="41" fill="#000"/>
<rect x="1058" y="170" width="3" height="39" fill="#fff"/>
<rect x="1067" y="132" width="1" height="46" fill="#000"/>
<rect x="1065" y="132" width="5" height="37" fill="#000"/>
<rect x="1066" y="133" width="3" height="35" fill="#fff"/>
<rect x="1075" y="134" width="1" height="6" fill="#000"/>
<rect x="1073" y="137" width="5" height="3" fill="#000"/>
<rect x="1083" y="132" width="1" height="30" fill="#000"/>
<rect x="1081" y="135" width="5" height="2" fill="#000"/>
<rect x="1091" y="127" width="1" height="20" fill="#000"/>
<rect x="1089" y="136" width="5" height="9" fill="#000"/>
<rect x="1099" y="132" width="1" height="22" fill="#000"/>
<rect x="1097" y="133" width="5" height="10" fill="#000"/>
<rect x="1098" y="134" width="3" height="8" fill="#fff"/>
<rect x="1107" y="111" width="1" height="32" fill="#000"/>
<rect x="1105" y="113" width="5" height="20" fill="#000"/>
<rect x="1106" y="114" width="3" height="18" fill="#fff"/>
<rect x="1115" y="90" width="1" height="27" fill="#000"/>
<rect x="1113" y="97" width="5" height="16" fill="#000"/>
<rect x="1114" y="98" width="3" height="14" fill="#fff"/>
<rect x="1123" y="87" width="1" height="8" fill="#000"/>
<rect x="1121" y="90" width="5" height="5" fill="#000"/>
<rect x="1122" y="91" width="3" height="3" fill="#fff"/>
<rect x="1131" y="79" width="1" height="17" fill="#000"/>
<rect x="1129" y="82" width="5" height="8" fill="#000"/>
<rect x="1130" y="83" width="3" height="6" fill="#fff"/>
<rect x="1139" y="82" width="1" height="41" fill="#000"/>
<rect x="1137" y="82" width="5" height="31" fill="#000"/>
<rect x="1147" y="105" width="1" height="24" fill="#000"/>
<rect x="1145" y="113" width="5" height="8" fill="#000"/>
<rect x="1155" y="103" width="1" height="27" fill="#000"/>
<rect x="1153" y="103" width="5" height="16" fill="#000"/>
<rect x="1154" y="104" width="3" height="14" fill="#fff"/>
<rect x="1163" y="92" width="1" height="22" fill="#000"/>
<rect x="1161" y="102" width="5" height="3" fill="#000"/>
<rect x="1162" y="103" width="3" height="1" fill="#fff"/>
<rect x="1171" y="98" width="1" height="9" fill="#000"/>
<rect x="1169" y="98" width="5" height="8" fill="#000"/>
<rect x="1179" y="104" width="1" height="24" fill="#000"/>
<rect x="1177" y="105" width="5" height="17" fill="#000"/>
<rect x="1187" y="103" width="1" height="24" fill="#000"/>
<rect x="1185" y="115" width="5" height="7" fill="#000"/>
<rect x="1186" y="116" width="3" height="5" fill="#fff"/>
<rect x="1195" y="114" width="1" height="15" fill="#000"/>
<rect x="1193" y="114" width="5" height="13" fill="#000"/>
<rect x="1203" y="108" width="1" height="19" fill="#000"/>
<rect x="1201" y="109" width="5" height="18" fill="#000"/>
<rect x="1202" y="110" width="3" height="16" fill="#fff"/>
<rect x="1211" y="111" width="1" height="12" fill="#000"/>
<rect x="1209" y="110" width="5" height="2" fill="#000"/>
<rect x="1219" y="112" width="1" height="6" fill="#000"/>
<rect x="1217" y="112" width="5" height="5" fill="#000"/>
<rect x="1227" y="109" width="1" height="41" fill="#000"/>
<rect x="1225" y="116" width="5" height="25" fill="#000"/>
<rect x="1235" y="139" width="1" height="56" fill="#000"/>
<rect x="1233" y="139" width="5" height="50" fill="#000"/>
<rect x="1243" y="168" width="1" height="34" fill="#000"/>
<rect x="1241" y="169" width="5" height="19" fill="#000"/>
<rect x="1242" y="170" width="3" height="17" fill="#fff"/>
<rect x="1251" y="148" width="1" height="29" fill="#000"/>
<rect x="1249" y="168" width="5" height="2" fill="#000"/>
<rect x="1259" y="142" width="1" height="37" fill="#000"/>
<rect x="1257" y="148" width="5" height="21" fill="#000"/>
<rect x="1258" y="149" width="3" height="19" fill="#fff"/>
<rect x="1267" y="151" width="1" height="10" fill="#000"/>
<rect x="1265" y="152" width="5" height="7" fill="#000"/>
<rect x="1275" y="144" width="1" height="26" fill="#000"/>
<rect x="1273" y="147" width="5" height="11" fill="#000"/>
<rect x="1274" y="148" width="3" height="9" fill="#fff"/>
<rect x="1283" y="147" width="1" height="27" fill="#000"/>
<rect x="1281" y="147" width="5" height="21" fill="#000"/>
<rect x="1291" y="153" width="1" height="19" fill="#000"/>
<rect x="1289" y="165" width="5" height="2" fill="#000"/>
<rect x="1299" y="149" width="1" height="24" fill="#000"/>
<rect x="1297" y="162" width="5" height="4" fill="#000"/>
<rect x="1298" y="163" width="3" height="2" fill="#fff"/>
<rect x="1307" y="159" width="1" height="20" fill="#000"/>
<rect x="1305" y="162" width="5" height="11" fill="#000"/>
<rect x="1315" y="166" width="1" height="5" fill="#000"/>
<rect x="1313" y="166" width="5" height="4" fill="#000"/>
<rect x="1314" y="167" width="3" height="2" fill="#fff"/>
<rect x="1323" y="153" width="1" height="15" fill="#000"/>
<rect x="1321" y="158" width="5" height="9" fill="#000"/>
<rect x="1322" y="159" width="3" height="7" fill="#fff"/>
<rect x="1331" y="153" width="1" height="37" fill="#000"/>
<rect x="1329" y="157" width="5" height="21" fill="#000"/>
<rect x="1339" y="150" width="1" height="30" fill="#000"/>
<rect x="1337" y="160" width="5" height="19" fill="#000"/>
<rect x="1338" y="161" width="3" height="17" fill="#fff"/>
<rect x="1347" y="133" width="1" height="29" fill="#000"/>
<rect x="1345" y="139" width="5" height="22" fill="#000"/>
<rect x="1346" y="140" width="3" height="20" fill="#fff"/>
<rect x="1355" y="132" width="1" height="16" fill="#000"/>
<rect x="1353" y="135" width="5" height="6" fill="#000"/>
<rect x="1354" y="136" width="3" height="4" fill="#fff"/>
<rect x="1363" y="135" width="1" height="5" fill="#000"/>
<rect x="1361" y="136" width="5" height="2" fill="#000"/>
<rect x="1371" y="117" width="1" height="32" fill="#000"/>
<rect x="1369" y="137" width="5" height="9" fill="#000"/>
<rect x="1379" y="142" width="1" height="62" fill="#000"/>
<rect x="1377" y="146" width="5" height="37" fill="#000"/>
<rect x="1387" y="173" width="1" height="78" fill="#000"/>
<rect x="1385" y="181" width="5" height="61" fill="#000"/>
<rect x="1395" y="236" width="1" height="43" fill="#000"/>
<rect x="1393" y="240" width="5" height="2" fill="#000"/>
<rect x="1403" y="206" width="1" height="40" fill="#000"/>
<rect x="1401" y="207" width="5" height="35" fill="#000"/>
<rect x="1402" y="208" width="3" height="33" fill="#fff"/>
<rect x="1411" y="205" width="1" height="7" fill="#000"/>
<rect x="1409" y="206" width="5" height="4" fill="#000"/>
<rect x="1410" y="207" width="3" height="2" fill="#fff"/>
<rect x="1419" y="205" width="1" height="48" fill="#000"/>
<rect x="1417" y="206" width="5" height="22" fill="#000"/>
<rect x="1427" y="196" width="1" height="32" fill="#000"/>
<rect x="1425" y="224" width="5" height="4" fill="#000"/>
<rect x="1426" y="225" width="3" height="2" fill="#fff"/>
</g>
<g shape-rendering="crispEdges" fill="#c0c0c0">
<rect x="3" y="677" width="1" height="15"/>
<rect x="11" y="678" width="1" height="14"/>
<rect x="19" y="679" width="1" height="13"/>
<rect x="27" y="680" width="1" height="12"/>
<rect x="35" y="682" width="1" height="10"/>
<rect x="43" y="685" width="1" height="7"/>
<rect x="51" y="689" width="1" height="3"/>
<rect x="75" y="691" width="1" height="7"/>
<rect x="83" y="691" width="1" height="3"/>
<rect x="91" y="690" width="1" height="2"/>
<rect x="99" y="684" width="1" height="8"/>
<rect x="107" y="676" width="1" height="16"/>
<rect x="115" y="668" width="1" height="24"/>
<rect x="123" y="659" width="1" height="33"/>
<rect x="131" y="644" width="1" height="48"/>
<rect x="139" y="634" width="1" height="58"/>
<rect x="147" y="623" width="1" height="69"/>
<rect x="155" y="617" width="1" height="75"/>
<rect x="163" y="609" width="1" height="83"/>
<rect x="171" y="604" width="1" height="88"/>
<rect x="179" y="595" width="1" height="97"/>
<rect x="187" y="593" width="1" height="99"/>
<rect x="195" y="595" width="1" height="97"/>
<rect x="203" y="599" width="1" height="93"/>
<rect x="211" y="601" width="1" height="91"/>
<rect x="219" y="604" width="1" height="88"/>
<rect x="227" y="604" width="1" height="88"/>
<rect x="235" y="597" width="1" height="95"/>
<rect x="243" y="597" width="1" height="95"/>
<rect x="251" y="595" width="1" height="97"/>
<rect x="259" y="591" width="1" height="101"/>
<rect x="267" y="588" width="1" height="104"/>
<rect x="275" y="590" width="1" height="102"/>
<rect x="283" y="589" width="1" height="103"/>
<rect x="291" y="591" width="1" height="101"/>
<rect x="299" y="595" width="1" height="97"/>
<rect x="307" y="597" width="1" height="95"/>
<rect x="315" y="600" width="1" height="92"/>
<rect x="323" y="608" width="1" height="84"/>
<rect x="331" y="615" width="1" height="77"/>
<rect x="339" y="620" width="1" height="72"/>
<rect x="347" y="623" width="1" height="69"/>
<rect x="355" y="629" width="1" height="63"/>
<rect x="363" y="633" width="1" height="59"/>
<rect x="371" y="637" width="1" height="55"/>
<rect x="379" y="638" width="1" height="54"/>
<rect x="387" y="641" width="1" height="51"/>
<rect x="395" y="644" width="1" height="48"/>
<rect x="403" y="647" width="1" height="45"/>
<rect x="411" y="648" width="1" height="44"/>
<rect x="419" y="653" width="1" height="39"/>
<rect x="427" y="658" width="1" height="34"/>
<rect x="435" y="660" width="1" height="32"/>
<rect x="443" y="663" width="1" height="29"/>
<rect x="451" y="664" width="1" height="28"/>
<rect x="459" y="666" width="1" height="26"/>
<rect x="467" y="665" width="1" height="27"/>
<rect x="475" y="655" width="1" height="37"/>
<rect x="483" y="650" width="1" height="42"/>
<rect x="491" y="646" width="1" height="46"/>
<rect x="499" y="642" width="1" height="50"/>
<rect x="507" y="646" width="1" height="46"/>
<rect x="515" y="649" width="1" height="43"/>
<rect x="523" y="649" width="1" height="43"/>
<rect x="531" y="646" width="1" height="46"/>
<rect x="539" y="638" width="1" height="54"/>
<rect x="547" y="632" width="1" height="60"/>
<rect x="555" y="629" width="1" height="63"/>
<rect x="563" y="627" width="1" height="65"/>
<rect x="571" y="623" width="1" height="69"/>
<rect x="579" y="614" width="1" height="78"/>
<rect x="587" y="615" width="1" height="77"/>
<rect x="595" y="618" width="1" height="74"/>
<rect x="603" y="619" width="1" height="73"/>
<rect x="611" y="616" width="1" height="76"/>
<rect x="619" y="615" width="1" height="77"/>
<rect x="627" y="617" width="1" height="75"/>
<rect x="635" y="619" width="1" height="73"/>
<rect x="643" y="621" width="1" height="71"/>
<rect x="651" y="623" width="1" height="69"/>
<rect x="659" y="625" width="1" height="67"/>
<rect x="667" y="638" width="1" height="54"/>
<rect x="675" y="643" width="1" height="49"/>
<rect x="683" y="653" width="1" height="39"/>
<rect x="691" y="664" width="1" height="28"/>
<rect x="699" y="666" width="1" height="26"/>
<rect x="707" y="665" width="1" height="27"/>
<rect x="715" y="663" width="1" height="29"/>
<rect x="723" y="661" width="1" height="31"/>
<rect x="731" y="658" width="1" height="34"/>
<rect x="739" y="655" width="1" height="37"/>
<rect x="747" y="645" width="1" height="47"/>
<rect x="755" y="640" width="1" height="52"/>
<rect x="763" y="637" width="1" height="55"/>
<rect x="771" y="631" width="1" height="61"/>
<rect x="779" y="628" width="1" height="64"/>
<rect x="787" y="625" width="1" height="67"/>
<rect x="795" y="618" width="1" height="74"/>
<rect x="803" y="611" width="1" height="81"/>
<rect x="811" y="606" width="1" height="86"/>
<rect x="819" y="608" width="1" height="84"/>
<rect x="827" y="607" width="1" height="85"/>
<rect x="835" y="607" width="1" height="85"/>
<rect x="843" y="612" width="1" height="80"/>
<rect x="851" y="615" width="1" height="77"/>
<rect x="859" y="617" width="1" height="75"/>
<rect x="867" y="626" width="1" height="66"/>
<rect x="875" y="637" width="1" height="55"/>
<rect x="883" y="643" width="1" height="49"/>
<rect x="891" y="645" width="1" height="47"/>
<rect x="899" y="652" width="1" height="40"/>
<rect x="907" y="662" width="1" height="30"/>
<rect x="915" y="675" width="1" height="17"/>
<rect x="923" y="681" width="1" height="11"/>
<rect x="931" y="684" width="1" height="8"/>
<rect x="947" y="691" width="1" height="6"/>
<rect x="955" y="691" width="1" height="11"/>
<rect x="963" y="691" width="1" height="10"/>
<rect x="971" y="691" width="1" height="6"/>
<rect x="979" y="691" width="1" height="2"/>
<rect x="987" y="689" width="1" height="3"/>
<rect x="995" y="686" width="1" height="6"/>
<rect x="1003" y="679" width="1" height="13"/>
<rect x="1011" y="677" width="1" height="15"/>
<rect x="1019" y="681" width="1" height="11"/>
<rect x="1027" y="686" width="1" height="6"/>
<rect x="1035" y="690" width="1" height="2"/>
<rect x="1043" y="691" width="1" height="8"/>
<rect x="1051" y="691" width="1" height="20"/>
<rect x="1059" y="691" width="1" height="21"/>
<rect x="1067" y="691" width="1" height="15"/>
<rect x="1075" y="691" width="1" height="12"/>
<rect x="1083" y="691" width="1" height="8"/>
<rect x="1091" y="691" width="1" height="7"/>
<rect x="1099" y="691" width="1" height="4"/>
<rect x="1107" y="688" width="1" height="4"/>
<rect x="1115" y="681" width="1" height="11"/>
<rect x="1123" y="673" width="1" height="19"/>
<rect x="1131" y="666" width="1" height="26"/>
<rect x="1139" y="667" width="1" height="25"/>
<rect x="1147" y="669" width="1" height="23"/>
<rect x="1155" y="668" width="1" height="24"/>
<rect x="1163" y="667" width="1" height="25"/>
<rect x="1171" y="667" width="1" height="25"/>
<rect x="1179" y="670" width="1" height="22"/>
<rect x="1187" y="672" width="1" height="20"/>
<rect x="1195" y="675" width="1" height="17"/>
<rect x="1203" y="675" width="1" height="17"/>
<rect x="1211" y="676" width="1" height="16"/>
<rect x="1219" y="677" width="1" height="15"/>
<rect x="1227" y="683" width="1" height="9"/>
<rect x="1235" y="691" width="1" height="5"/>
<rect x="1243" y="691" width="1" height="13"/>
<rect x="1251" y="691" width="1" height="18"/>
<rect x="1259" y="691" width="1" height="18"/>
<rect x="1267" y="691" width="1" height="20"/>
<rect x="1275" y="691" width="1" height="19"/>
<rect x="1283" y="691" width="1" height="22"/>
<rect x="1291" y="691" width="1" height="22"/>
<rect x="1299" y="691" width="1" height="24"/>
<rect x="1307" y="691" width="1" height="25"/>
<rect x="1315" y="691" width="1" height="25"/>
<rect x="1323" y="691" width="1" height="24"/>
<rect x="1331" y="691" width="1" height="24"/>
<rect x="1339" y="691" width="1" height="22"/>
<rect x="1347" y="691" width="1" height="19"/>
<rect x="1355" y="691" width="1" height="12"/>
<rect x="1363" y="691" width="1" height="8"/>
<rect x="1371" y="691" width="1" height="7"/>
<rect x="1379" y="691" width="1" height="12"/>
<rect x="1387" y="691" width="1" height="27"/>
<rect x="1395" y="691" width="1" height="38"/>
<rect x="1403" y="691" width="1" height="42"/>
<rect x="1411" y="691" width="1" height="43"/>
<rect x="1419" y="691" width="1" height="48"/>
<rect x="1427" y="691" width="1" height="50"/>
</g>
<polyline points="0.0,674.2 10.2,675.5 25.4,676.0 43.3,678.1 58.5,680.6 73.8,684.9 86.5,687.5 99.2,688.8 114.5,686.5 129.8,679.3 145.1,665.3 155.2,654.4 168.0,639.9 180.7,625.9 196.0,611.9 211.2,602.5 226.5,599.2 244.3,597.4 262.1,597.1 279.9,594.8 292.7,592.8 307.9,592.3 323.2,593.3 335.9,598.4 351.2,605.0 366.5,613.7 381.7,623.4 397.0,630.5 412.3,637.3 427.5,643.7 440.0,648.3 452.7,653.4 468.0,656.9 478.2,658.5 490.9,658.2 501.1,655.2 516.3,653.1 531.6,649.6 541.8,644.5 554.5,641.7 567.2,638.1 580.0,633.0 592.7,627.2 605.4,622.6 618.1,618.8 630.9,617.2 643.6,616.2 658.9,618.3 669.0,621.3 681.8,626.7 694.5,635.3 707.2,643.2 719.9,650.8 732.7,656.4 742.8,658.2 753.0,656.4 763.2,653.9 775.9,648.3 786.1,642.4 796.3,636.1 809.0,627.9 821.7,620.8 831.9,616.2 844.6,612.7 857.4,610.6 867.5,611.4 880.0,616.2 892.7,623.4 905.4,632.3 918.2,643.2 930.9,655.2 943.6,666.6 956.3,676.8 966.5,684.4 976.7,689.5 986.9,692.1 997.1,692.1 1009.8,690.8 1020.0,688.2 1032.7,685.7 1042.9,685.2 1053.1,688.2 1063.2,690.8 1073.4,695.1 1083.6,698.4 1096.3,700.2 1106.5,700.2 1119.2,697.2 1129.4,690.8 1139.6,684.9 1152.3,678.8 1165.0,673.0 1177.7,669.7 1190.5,668.7 1203.2,669.2 1209.7,670.0 1229.1,673.2 1245.3,681.3 1264.8,690.2 1277.7,696.7 1290.7,704.8 1300.4,708.1 1313.4,711.8 1329.6,713.4 1339.3,713.7 1358.7,712.4 1368.4,709.7 1378.1,708.4 1387.8,708.4 1397.6,710.5 1408.9,713.4 1418.6,717.0 1426.7,720.5" fill="none" stroke="#ff0000" stroke-width="1" stroke-dasharray="2.5,2.5"/>
<g shape-rendering="crispEdges" fill="none" stroke="#c0c0c0" stroke-width="1" stroke-dasharray="3,3">
<line x1="0" y1="786.5" x2="1682" y2="786.5"/>
<line x1="0" y1="837.5" x2="1682" y2="837.5"/>
<line x1="0" y1="898.5" x2="1682" y2="898.5"/>
</g>
<polyline points="-4.5,825.4 3.5,829.5 11.5,828.5 19.5,828.5 27.5,831.5 35.5,842.2 43.5,844.8 51.5,859.5 59.5,847.6 67.5,854.4 75.5,858.2 83.5,832.8 91.5,817.5 99.5,812.4 107.5,804.0 115.5,797.9 123.5,794.1 131.5,782.4 139.5,785.7 147.5,782.4 155.5,785.7 163.5,782.4 171.5,781.4 179.5,776.3 187.5,788.8 195.5,802.3 203.5,809.4 211.5,804.3 219.5,804.3 227.5,799.2 235.5,790.3 243.5,802.3 251.5,797.9 259.5,793.4 267.5,793.4 275.5,802.3 283.5,798.4 291.5,803.0 299.5,806.3 307.5,804.3 315.5,802.3 323.5,823.4 331.5,820.8 339.5,817.5 347.5,815.5 355.5,822.1 363.5,820.3 371.5,821.3 379.5,816.5 387.5,818.3 395.5,819.3 403.5,821.3 411.5,817.5 419.5,831.5 427.5,830.3 435.5,826.4 443.5,826.4 451.5,825.4 459.5,825.4 467.5,815.0 475.5,795.4 483.5,801.5 491.5,800.2 499.5,797.9 507.5,825.2 515.5,826.4 523.5,817.5 531.5,808.6 539.5,799.2 547.5,797.9 555.5,805.3 563.5,803.0 571.5,797.2 579.5,790.3 587.5,809.9 595.5,818.3 603.5,813.2 611.5,806.1 619.5,809.9 627.5,815.5 635.5,814.2 643.5,812.4 651.5,812.4 659.5,813.2 667.5,842.2 675.5,830.3 683.5,842.2 691.5,847.6 699.5,832.3 707.5,826.9 715.5,825.2 723.5,822.9 731.5,821.3 739.5,819.3 747.5,806.3 755.5,811.2 763.5,812.7 771.5,807.3 779.5,810.7 787.5,807.3 795.5,799.0 803.5,797.2 811.5,797.2 819.5,811.2 827.5,807.3 835.5,805.3 843.5,816.3 851.5,817.8 859.5,812.4 867.5,832.8 875.5,837.1 883.5,833.3 891.5,824.4 899.5,835.9 907.5,845.5 915.5,854.4 923.5,843.0 931.5,839.2 939.5,850.1 947.5,845.5 955.5,847.3 963.5,841.2 971.5,833.3 979.5,829.0 987.5,831.5 995.5,830.3 1003.5,821.9 1011.5,830.3 1019.5,840.4 1027.5,844.2 1035.5,842.2 1043.5,856.2 1051.5,862.1 1059.5,843.0 1067.5,833.3 1075.5,835.3 1083.5,834.1 1091.5,837.1 1099.5,833.3 1107.5,825.9 1115.5,820.8 1123.5,819.3 1131.5,817.5 1139.5,831.5 1147.5,834.6 1155.5,828.5 1163.5,826.9 1171.5,829.0 1179.5,836.6 1187.5,833.3 1195.5,839.2 1203.5,831.5 1211.5,832.3 1219.5,835.3 1227.5,845.5 1235.5,863.3 1243.5,853.7 1251.5,853.7 1259.5,844.2 1267.5,847.6 1275.5,842.5 1283.5,850.6 1291.5,849.3 1299.5,848.1 1307.5,851.9 1315.5,847.6 1323.5,843.5 1331.5,851.9 1339.5,843.0 1347.5,833.3 1355.5,831.5 1363.5,831.5 1371.5,836.6 1379.5,853.2 1387.5,869.7 1395.5,870.2 1403.5,854.4 1411.5,853.9 1419.5,861.6 1427.5,857.7" fill="none" stroke="#1e90ff" stroke-width="1" stroke-linejoin="round"/>
<g shape-rendering="crispEdges" fill="#000">
<rect x="1683" y="46" width="3" height="1"/>
<rect x="1683" y="79" width="3" height="1"/>
<rect x="1683" y="112" width="3" height="1"/>
<rect x="1683" y="145" width="3" height="1"/>
<rect x="1683" y="211" width="3" height="1"/>
<rect x="1683" y="276" width="3" height="1"/>
<rect x="1683" y="310" width="3" height="1"/>
<rect x="1683" y="343" width="3" height="1"/>
<rect x="1683" y="376" width="3" height="1"/>
<rect x="1683" y="409" width="3" height="1"/>
<rect x="1683" y="442" width="3" height="1"/>
<rect x="1683" y="475" width="3" height="1"/>
<rect x="1683" y="507" width="3" height="1"/>
<rect x="1683" y="540" width="3" height="1"/>
<rect x="1683" y="573" width="3" height="1"/>
<rect x="1683" y="178" width="3" height="1"/>
<rect x="1683" y="244" width="3" height="1"/>
<rect x="1683" y="581" width="3" height="1"/>
<rect x="1683" y="691" width="3" height="1"/>
<rect x="1683" y="741" width="3" height="1"/>
<rect x="59" y="925" width="1" height="3"/>
<rect x="123" y="925" width="1" height="3"/>
<rect x="187" y="925" width="1" height="3"/>
<rect x="251" y="925" width="1" height="3"/>
<rect x="315" y="925" width="1" height="3"/>
<rect x="379" y="925" width="1" height="3"/>
<rect x="443" y="925" width="1" height="3"/>
<rect x="507" y="925" width="1" height="3"/>
<rect x="571" y="925" width="1" height="3"/>
<rect x="635" y="925" width="1" height="3"/>
<rect x="699" y="925" width="1" height="3"/>
<rect x="763" y="925" width="1" height="3"/>
<rect x="827" y="925" width="1" height="3"/>
<rect x="891" y="925" width="1" height="3"/>
<rect x="955" y="925" width="1" height="3"/>
<rect x="1019" y="925" width="1" height="3"/>
<rect x="1083" y="925" width="1" height="3"/>
<rect x="1147" y="925" width="1" height="3"/>
<rect x="1211" y="925" width="1" height="3"/>
<rect x="1275" y="925" width="1" height="3"/>
<rect x="1339" y="925" width="1" height="3"/>
<rect x="1403" y="925" width="1" height="3"/>
</g>
<g font-size="10.2" fill="#000">
<text x="1688" y="49.4" textLength="32.5" lengthAdjust="spacingAndGlyphs">30776.0</text>
<text x="1688" y="82.4" textLength="32.5" lengthAdjust="spacingAndGlyphs">30281.0</text>
<text x="1688" y="115.4" textLength="32.5" lengthAdjust="spacingAndGlyphs">29771.0</text>
<text x="1688" y="148.4" textLength="32.5" lengthAdjust="spacingAndGlyphs">29261.0</text>
<text x="1688" y="214.4" textLength="32.5" lengthAdjust="spacingAndGlyphs">28256.0</text>
<text x="1688" y="279.4" textLength="32.5" lengthAdjust="spacingAndGlyphs">27251.0</text>
<text x="1688" y="313.4" textLength="32.5" lengthAdjust="spacingAndGlyphs">26741.0</text>
<text x="1688" y="346.4" textLength="32.5" lengthAdjust="spacingAndGlyphs">26231.0</text>
<text x="1688" y="379.4" textLength="32.5" lengthAdjust="spacingAndGlyphs">25736.0</text>
<text x="1688" y="412.4" textLength="32.5" lengthAdjust="spacingAndGlyphs">25226.0</text>
<text x="1688" y="445.4" textLength="32.5" lengthAdjust="spacingAndGlyphs">24716.0</text>
<text x="1688" y="478.4" textLength="32.5" lengthAdjust="spacingAndGlyphs">24221.0</text>
<text x="1688" y="510.4" textLength="32.5" lengthAdjust="spacingAndGlyphs">23711.0</text>
<text x="1688" y="543.4" textLength="32.5" lengthAdjust="spacingAndGlyphs">23201.0</text>
<text x="1688" y="576.4" textLength="32.5" lengthAdjust="spacingAndGlyphs">22706.0</text>
<text x="1687" y="588.8" textLength="27" lengthAdjust="spacingAndGlyphs">728.75</text>
<text x="1687" y="694.6" textLength="18.1" lengthAdjust="spacingAndGlyphs">0.00</text>
<text x="1687" y="745" textLength="26.4" lengthAdjust="spacingAndGlyphs">-372.1</text>
<text x="1686.5" y="760.6" textLength="15.5" lengthAdjust="spacingAndGlyphs">100</text>
<text x="1686.5" y="789.6" textLength="10.3" lengthAdjust="spacingAndGlyphs">80</text>
<text x="1686.5" y="840.6" textLength="10.3" lengthAdjust="spacingAndGlyphs">50</text>
<text x="1686.5" y="901.6" textLength="10.3" lengthAdjust="spacingAndGlyphs">15</text>
<text x="1686.5" y="920.6" textLength="5.2" lengthAdjust="spacingAndGlyphs">0</text>
<text x="-6" y="936.9" textLength="50.7" lengthAdjust="spacingAndGlyphs">20 Oct 2020</text>
<text x="58" y="936.9" textLength="50.7" lengthAdjust="spacingAndGlyphs">29 Oct 2020</text>
<text x="122" y="936.9" textLength="47.6" lengthAdjust="spacingAndGlyphs">8 Nov 2020</text>
<text x="186" y="936.9" textLength="52.7" lengthAdjust="spacingAndGlyphs">17 Nov 2020</text>
<text x="250" y="936.9" textLength="52.7" lengthAdjust="spacingAndGlyphs">26 Nov 2020</text>
<text x="314" y="936.9" textLength="47.6" lengthAdjust="spacingAndGlyphs">6 Dec 2020</text>
<text x="378" y="936.9" textLength="52.7" lengthAdjust="spacingAndGlyphs">15 Dec 2020</text>
<text x="442" y="936.9" textLength="52.7" lengthAdjust="spacingAndGlyphs">24 Dec 2020</text>
<text x="506" y="936.9" textLength="46.0" lengthAdjust="spacingAndGlyphs">4 Jan 2021</text>
<text x="570" y="936.9" textLength="51.2" lengthAdjust="spacingAndGlyphs">13 Jan 2021</text>
<text x="634" y="936.9" textLength="51.2" lengthAdjust="spacingAndGlyphs">22 Jan 2021</text>
<text x="698" y="936.9" textLength="47.1" lengthAdjust="spacingAndGlyphs">1 Feb 2021</text>
<text x="762" y="936.9" textLength="52.2" lengthAdjust="spacingAndGlyphs">10 Feb 2021</text>
<text x="826" y="936.9" textLength="52.2" lengthAdjust="spacingAndGlyphs">19 Feb 2021</text>
<text x="890" y="936.9" textLength="47.0" lengthAdjust="spacingAndGlyphs">1 Mar 2021</text>
<text x="954" y="936.9" textLength="52.2" lengthAdjust="spacingAndGlyphs">10 Mar 2021</text>
<text x="1018" y="936.9" textLength="52.2" lengthAdjust="spacingAndGlyphs">19 Mar 2021</text>
<text x="1082" y="936.9" textLength="52.2" lengthAdjust="spacingAndGlyphs">29 Mar 2021</text>
<text x="1146" y="936.9" textLength="45.5" lengthAdjust="spacingAndGlyphs">7 Apr 2021</text>
<text x="1210" y="936.9" textLength="50.7" lengthAdjust="spacingAndGlyphs">16 Apr 2021</text>
<text x="1274" y="936.9" textLength="50.7" lengthAdjust="spacingAndGlyphs">26 Apr 2021</text>
<text x="1338" y="936.9" textLength="48.6" lengthAdjust="spacingAndGlyphs">5 May 2021</text>
<text x="1402" y="936.9" textLength="53.8" lengthAdjust="spacingAndGlyphs">14 May 2021</text>
<text x="10.5" y="34.8" textLength="206" lengthAdjust="spacingAndGlyphs">JPN225-,Daily&#160; 27982.5 28477.5 27982.5 28040.0</text>
<text x="0" y="590.6" textLength="133" lengthAdjust="spacingAndGlyphs">MACD(12,26,9) -322.06 -197.58</text>
<text x="-1" y="762.6" textLength="68" lengthAdjust="spacingAndGlyphs">RSI(14) 38.2750</text>
</g>
<path d="M0 34.5 L5.2 34.5 L2.6 30.5 Z" fill="#000"/>
<rect x="1684" y="172" width="41" height="11" fill="#ff0000" shape-rendering="crispEdges"/>
<text x="1688.3" y="181.3" font-size="10.2" fill="#fff" textLength="32.5" lengthAdjust="spacingAndGlyphs">28742.0</text>
<rect x="1677.5" y="176.5" width="4" height="4" fill="#fff" stroke="#ff0000" stroke-width="1" shape-rendering="crispEdges"/>
<rect x="1684" y="198" width="41" height="11" fill="#ff0000" shape-rendering="crispEdges"/>
<text x="1688.3" y="207.3" font-size="10.2" fill="#fff" textLength="32.5" lengthAdjust="spacingAndGlyphs">28344.8</text>
<rect x="1677.5" y="202.5" width="4" height="4" fill="#fff" stroke="#ff0000" stroke-width="1" shape-rendering="crispEdges"/>
<rect x="1684" y="219" width="41" height="11" fill="#000000" shape-rendering="crispEdges"/>
<text x="1688.3" y="228.3" font-size="10.2" fill="#fff" textLength="32.5" lengthAdjust="spacingAndGlyphs">28040.0</text>
<rect x="1684" y="224" width="41" height="11" fill="#32cd32" shape-rendering="crispEdges"/>
<text x="1688.3" y="233.3" font-size="10.2" fill="#fff" textLength="32.5" lengthAdjust="spacingAndGlyphs">27947.5</text>
<rect x="1684" y="238" width="41" height="11" fill="#0000ff" shape-rendering="crispEdges"/>
<text x="1688.3" y="247.3" font-size="10.2" fill="#fff" textLength="32.5" lengthAdjust="spacingAndGlyphs">27733.6</text>
<rect x="1677.5" y="242.5" width="4" height="4" fill="#fff" stroke="#0000ff" stroke-width="1" shape-rendering="crispEdges"/>
<rect x="1684" y="252" width="41" height="11" fill="#0000ff" shape-rendering="crispEdges"/>
<text x="1688.3" y="261.3" font-size="10.2" fill="#fff" textLength="32.5" lengthAdjust="spacingAndGlyphs">27519.7</text>
<rect x="732.5" y="42.5" width="61" height="18" fill="#fff" stroke="#ff0000" stroke-width="1" shape-rendering="crispEdges"/>
<text x="763.0" y="57.393" font-size="16.6" fill="#ff0000" text-anchor="middle" textLength="57" lengthAdjust="spacingAndGlyphs">30696.9</text>
<rect x="794" y="51" width="10" height="1" fill="#ff0000" shape-rendering="crispEdges"/>
<rect x="852.5" y="200.5" width="61" height="18" fill="#fff" stroke="#ff0000" stroke-width="1" shape-rendering="crispEdges"/>
<text x="883.0" y="215.393" font-size="16.6" fill="#ff0000" text-anchor="middle" textLength="57" lengthAdjust="spacingAndGlyphs">28273.2</text>
<rect x="914" y="209" width="10" height="1" fill="#ff0000" shape-rendering="crispEdges"/>
<rect x="1300.5" y="108.5" width="61" height="18" fill="#fff" stroke="#ff0000" stroke-width="1" shape-rendering="crispEdges"/>
<text x="1331.0" y="123.393" font-size="16.6" fill="#ff0000" text-anchor="middle" textLength="57" lengthAdjust="spacingAndGlyphs">29674.1</text>
<rect x="1362" y="117" width="10" height="1" fill="#ff0000" shape-rendering="crispEdges"/>
<rect x="1324.5" y="276.5" width="61" height="18" fill="#fff" stroke="#ff0000" stroke-width="1" shape-rendering="crispEdges"/>
<text x="1355.0" y="291.393" font-size="16.6" fill="#ff0000" text-anchor="middle" textLength="57" lengthAdjust="spacingAndGlyphs">27107.2</text>
<rect x="1220" y="230" width="10" height="1" fill="#ff0000" shape-rendering="crispEdges"/>
<rect x="1230.5" y="218.5" width="73" height="24" fill="#fff" stroke="#ff0000" stroke-width="1" shape-rendering="crispEdges"/>
<text x="1267.0" y="238.239" font-size="21.8" fill="#ff0000" text-anchor="middle" textLength="69" lengthAdjust="spacingAndGlyphs">27947.5</text>
<line x1="1365.0" y1="117.0" x2="1388.9" y2="284.6" stroke="#ff0000" stroke-width="3.6" stroke-linecap="butt"/>
<path d="M1390.3 294.5 L1383.2 283.4 L1394.1 281.8 Z" fill="#ff0000"/>
<line x1="1389.6" y1="292.0" x2="1426.4" y2="213.4" stroke="#ff0000" stroke-width="3.6" stroke-linecap="butt"/>
<path d="M1431.5 202.5 L1431.5 217.9 L1419.7 212.4 Z" fill="#ff0000"/>
<line x1="1231.0" y1="690.3" x2="1456.7" y2="734.3" stroke="#ff0000" stroke-width="3" stroke-linecap="butt"/>
<path d="M1464.6 735.8 L1453.9 738.3 L1455.6 729.5 Z" fill="#ff0000"/>
<line x1="1353.9" y1="820.1" x2="1384.5" y2="869.1" stroke="#ff0000" stroke-width="3" stroke-linecap="butt"/>
<path d="M1388.2 875.0 L1379.2 870.0 L1387.7 864.7 Z" fill="#ff0000"/>
<line x1="1388.2" y1="873.0" x2="1399.5" y2="857.4" stroke="#ff0000" stroke-width="3" stroke-linecap="butt"/>
<path d="M1403.0 852.5 L1402.4 861.9 L1394.3 856.1 Z" fill="#ff0000"/>
<line x1="1402.2" y1="853.2" x2="1440.2" y2="859.9" stroke="#ff0000" stroke-width="3" stroke-linecap="butt"/>
<path d="M1448.1 861.3 L1437.5 864.0 L1439.0 855.1 Z" fill="#ff0000"/>
<rect x="1360" y="226" width="121" height="8" fill="#00ff00" shape-rendering="crispEdges"/>
<text x="1491.8" y="210" font-size="21.8" fill="#00ff00" textLength="109" lengthAdjust="spacing" style="font-family:'Liberation Sans','Noto Sans CJK SC',sans-serif">多空转折点</text>
<rect x="0" y="43" width="50" height="25" fill="url(#gr1)" shape-rendering="crispEdges"/>
<rect x="165" y="43" width="52" height="25" fill="url(#gr1)" shape-rendering="crispEdges"/>
<rect x="0" y="43" width="50" height="1" fill="#c81818" shape-rendering="crispEdges"/>
<rect x="49" y="43" width="1" height="24" fill="#c81818" shape-rendering="crispEdges"/>
<rect x="165" y="43" width="52" height="1" fill="#c81818" shape-rendering="crispEdges"/>
<rect x="165" y="43" width="1" height="24" fill="#c81818" shape-rendering="crispEdges"/>
<rect x="216" y="43" width="1" height="57" fill="#c01010" shape-rendering="crispEdges"/>
<rect x="0" y="67" width="107" height="33" fill="url(#gr2)" shape-rendering="crispEdges"/>
<rect x="109" y="67" width="108" height="33" fill="url(#gr2)" shape-rendering="crispEdges"/>
<rect x="2" y="66" width="44" height="1" fill="#f88" opacity="0.8" shape-rendering="crispEdges"/>
<rect x="169" y="66" width="44" height="1" fill="#f88" opacity="0.8" shape-rendering="crispEdges"/>
<rect x="52.5" y="43.5" width="110" height="21" fill="#fff" stroke="#a8a8a8" shape-rendering="crispEdges"/>
<rect x="54" y="45" width="18" height="18" fill="url(#gb)" stroke="#c4c4c4" stroke-width="1" shape-rendering="crispEdges"/>
<rect x="142" y="45" width="19" height="18" fill="url(#gb)" stroke="#c4c4c4" stroke-width="1" shape-rendering="crispEdges"/>
<path d="M60 52 L65 52 L62.5 55 Z" fill="#5566cc"/>
<path d="M149 55 L154 55 L151.5 52 Z" fill="#5566cc"/>
<text x="138" y="58.3" font-size="11.5" text-anchor="end" fill="#000">1.00</text>
<text x="23.3" y="59" font-size="12" text-anchor="middle" fill="#fff" textLength="26" lengthAdjust="spacingAndGlyphs">SELL</text>
<text x="190" y="59" font-size="12" text-anchor="middle" fill="#fff" textLength="23" lengthAdjust="spacingAndGlyphs">BUY</text>
<text x="14.4" y="94.8" font-size="11.8" font-weight="bold" fill="#fff" textLength="34" lengthAdjust="spacingAndGlyphs">28038</text>
<text x="124.4" y="94.8" font-size="11.8" font-weight="bold" fill="#fff" textLength="34" lengthAdjust="spacingAndGlyphs">28066</text>
<rect x="53.5" y="91" width="4" height="4" fill="#fff"/>
<rect x="164.5" y="91" width="4" height="4" fill="#fff"/>
<text x="60" y="95" font-size="33" fill="#fff" textLength="16" lengthAdjust="spacingAndGlyphs">5</text>
<text x="171" y="95" font-size="33" fill="#fff" textLength="16" lengthAdjust="spacingAndGlyphs">5</text>
</svg>
</body></html>
